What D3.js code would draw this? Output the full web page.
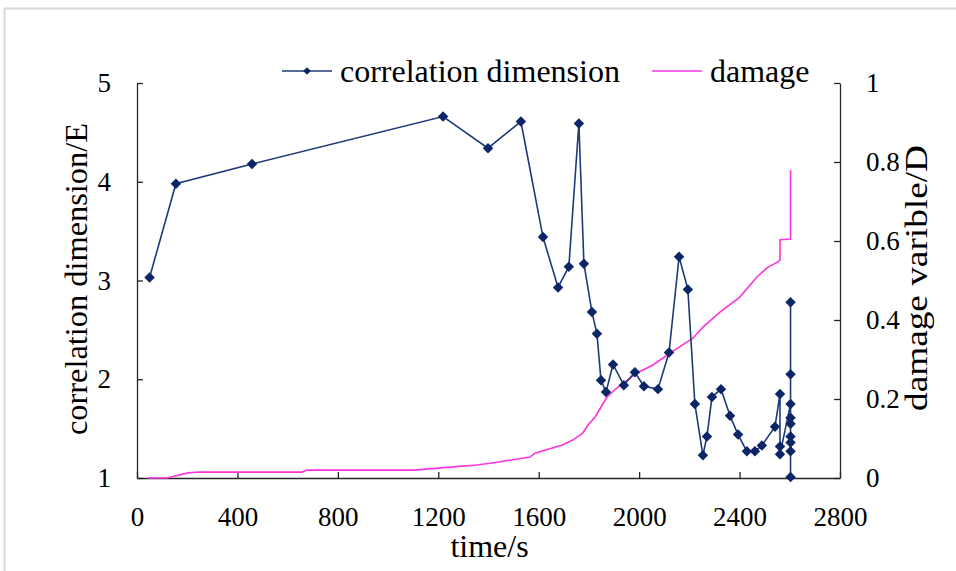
<!DOCTYPE html>
<html>
<head>
<meta charset="utf-8">
<script src="https://cdn.jsdelivr.net/npm/d3@7"></script>
<style>
  body { margin: 0; background: #fff; }
  svg text { font-family: "Liberation Serif", "Times New Roman", serif; fill: #000; }
</style>
</head>
<body>
<div id="chart"></div>
<script>
// correlation dimension series (time in s, E)
var timeE = [50, 155, 458, 1219, 1398, 1529, 1617, 1677, 1720, 1760, 1780, 1812, 1832, 1848, 1868,
             1896, 1939, 1983, 2019, 2075, 2119, 2159, 2194, 2222, 2254, 2270, 2290, 2326, 2362, 2394,
             2429, 2461, 2489, 2541, 2561, 2561, 2561, 2603, 2603, 2603, 2603, 2603, 2603, 2603, 2603, 2603];
var valueE = [3.03, 3.98, 4.18, 4.66, 4.34, 4.61, 3.44, 2.93, 3.14, 4.59, 3.17, 2.68, 2.46, 1.99, 1.87,
              2.15, 1.94, 2.07, 1.93, 1.90, 2.27, 3.24, 2.91, 1.75, 1.23, 1.42, 1.82, 1.90, 1.63, 1.44,
              1.27, 1.27, 1.33, 1.52, 1.85, 1.32, 1.24, 1.75, 1.61, 1.55, 1.42, 1.36, 1.27, 1.01, 2.05, 2.78];

// damage series (time in s, D)
var timeD = [44, 120, 203, 250, 657, 677, 1100, 1200, 1354, 1434, 1565, 1585, 1697, 1736, 1776, 1796,
             1824, 1872, 1912, 1991, 2055, 2123, 2214, 2254, 2322, 2401, 2469, 2513, 2553, 2561, 2561,
             2603, 2603];
var valueD = [0, 0, 0.013, 0.015, 0.015, 0.02, 0.02, 0.025, 0.033, 0.04, 0.053, 0.063, 0.084, 0.096, 0.114, 0.134,
              0.154, 0.205, 0.228, 0.266, 0.286, 0.316, 0.354, 0.382, 0.42, 0.458, 0.509, 0.534, 0.547, 0.552, 0.603,
              0.605, 0.78];

var xTicks = [0, 400, 800, 1200, 1600, 2000, 2400, 2800];
var leftTicks = [1, 2, 3, 4, 5];
var rightTicks = [0, 0.2, 0.4, 0.6, 0.8, 1];

function init() {
    var w = 956, h = 571;
    // plot area edges
    var pL = 137, pR = 840, pT = 83, pB = 478;

    var svg = d3.select("#chart").append("svg")
        .attr("width", w)
        .attr("height", h);

    // light grey frame round the chart
    svg.append("rect")
        .attr("x", 4.5).attr("y", 8.5)
        .attr("width", 970).attr("height", 580)
        .attr("fill", "none")
        .attr("stroke", "#d9d9d9")
        .attr("stroke-width", 2);

    var x = d3.scaleLinear().domain([0, 2800]).range([pL, pR]);
    var yL = d3.scaleLinear().domain([1, 5]).range([pB, pT]);
    var yR = d3.scaleLinear().domain([0, 1]).range([pB, pT]);

    var axisColor = "#262626";

    function styleAxis(g, size) {
        g.select(".domain").attr("stroke", axisColor).attr("stroke-width", 1.3);
        g.selectAll(".tick line").attr("stroke", axisColor).attr("stroke-width", 1.3);
        g.selectAll(".tick text").attr("font-size", size).attr("font-family", "Liberation Serif").attr("fill", "#000");
    }

    svg.append("g")
        .attr("transform", "translate(0," + pB + ")")
        .call(d3.axisBottom(x).tickValues(xTicks).tickSizeInner(-6).tickSizeOuter(0).tickPadding(29)
            .tickFormat(d3.format("d")))
        .call(styleAxis, 27);

    svg.append("g")
        .attr("transform", "translate(" + pL + ",0)")
        .call(d3.axisLeft(yL).tickValues(leftTicks).tickSizeInner(-6).tickSizeOuter(0).tickPadding(26)
            .tickFormat(d3.format("d")))
        .call(styleAxis, 27);

    svg.append("g")
        .attr("transform", "translate(" + pR + ",0)")
        .call(d3.axisRight(yR).tickValues(rightTicks).tickSizeInner(-6).tickSizeOuter(0).tickPadding(26)
            .tickFormat(function(d) { return (d === 0 || d === 1) ? String(d) : d.toFixed(1); }))
        .call(styleAxis, 27);

    // axis titles (the rotated ones are drawn a bit elongated, as in the source)
    svg.append("text")
        .attr("x", (pL + pR) / 2 + 1).attr("y", 557)
        .attr("text-anchor", "middle")
        .attr("font-size", 32)
        .text("time/s");

    svg.append("text")
        .attr("transform", "translate(87,279) rotate(-90)")
        .attr("text-anchor", "middle")
        .attr("font-size", 31)
        .attr("textLength", 312)
        .attr("lengthAdjust", "spacingAndGlyphs")
        .text("correlation dimension/E");

    svg.append("text")
        .attr("transform", "translate(927,278) rotate(-90)")
        .attr("text-anchor", "middle")
        .attr("font-size", 31)
        .attr("textLength", 266)
        .attr("lengthAdjust", "spacingAndGlyphs")
        .text("damage varible/D");

    // damage curve
    var damage = timeD.map(function(t, i) { return [t, valueD[i]]; });
    svg.append("path")
        .datum(damage)
        .attr("fill", "none")
        .attr("stroke", "#ff33dd")
        .attr("stroke-width", 1.6)
        .attr("d", d3.line().x(function(d) { return x(d[0]); }).y(function(d) { return yR(d[1]); }));

    // correlation dimension line + diamond markers
    var navy = "#0b2566";
    var corr = timeE.map(function(t, i) { return [t, valueE[i]]; });
    svg.append("path")
        .datum(corr)
        .attr("fill", "none")
        .attr("stroke", "#1d3a78")
        .attr("stroke-width", 1.6)
        .attr("d", d3.line().x(function(d) { return x(d[0]); }).y(function(d) { return yL(d[1]); }));

    var diamond = d3.symbol().type(d3.symbolSquare).size(55);
    svg.selectAll(".pt")
        .data(corr)
        .enter()
        .append("path")
        .attr("class", "pt")
        .attr("d", diamond)
        .attr("fill", navy)
        .attr("transform", function(d) { return "translate(" + x(d[0]) + "," + yL(d[1]) + ") rotate(45)"; });

    // legend
    var leg = svg.append("g");
    leg.append("line")
        .attr("x1", 282).attr("x2", 332).attr("y1", 71).attr("y2", 71)
        .attr("stroke", "#1d3a78").attr("stroke-width", 1.6);
    leg.append("path")
        .attr("d", d3.symbol().type(d3.symbolSquare).size(28))
        .attr("fill", navy)
        .attr("transform", "translate(307,71) rotate(45)");
    leg.append("text")
        .attr("x", 340).attr("y", 82)
        .attr("font-size", 32)
        .text("correlation dimension");

    leg.append("line")
        .attr("x1", 652).attr("x2", 702).attr("y1", 71).attr("y2", 71)
        .attr("stroke", "#ff33dd").attr("stroke-width", 1.6);
    leg.append("text")
        .attr("x", 710).attr("y", 82)
        .attr("font-size", 32)
        .text("damage");
}

window.onload = init;
</script>
</body>
</html>
